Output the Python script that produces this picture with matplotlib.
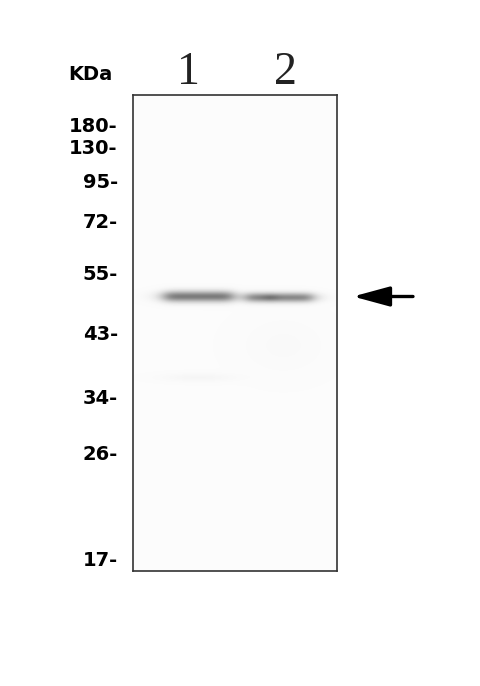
import numpy as np
import matplotlib
matplotlib.use("Agg")
import matplotlib.pyplot as plt

# marker ladder (kDa) and where each one ran on the gel (px from gel top)
marker_kda = ["180", "130", "95", "72", "55", "43", "34", "26", "17"]
marker_mig = [29, 51, 85, 125, 177, 238, 301, 358, 463]

lane_names = ["1", "2"]
lane_label_x = [55, 152]

# detected band per lane: centre x, half width, migration, darkness, thickness
band_x = [65, 146]
band_halfw = [35, 34]
band_mig = [201, 202]
band_dark = [0.50, 0.45]
band_sigma = [3.8, 3.3]

gel_w, gel_h = 204, 476

fig = plt.figure(figsize=(4.8, 6.86), dpi=100)
ax = fig.add_axes([133 / 480, 115 / 686, gel_w / 480, gel_h / 686])

# build the gel image
yy, xx = np.mgrid[0:gel_h, 0:gel_w]
img = np.full((gel_h, gel_w), 0.985)
for cx, hw, my, d, s in zip(band_x, band_halfw, band_mig, band_dark, band_sigma):
    prof_x = 1.0 / (1.0 + ((xx - cx) / hw) ** 8)
    prof_y = np.exp(-0.5 * ((yy - my) / s) ** 2)
    img -= d * prof_x * prof_y
# darker core in lane 2
img -= 0.08 * np.exp(-0.5 * (((xx - 137) / 6) ** 2 + ((yy - 202) / 2.5) ** 2))
# faint smear below the bands
img -= 0.025 * np.exp(-0.5 * (((xx - 65) / 25) ** 2 + ((yy - 282) / 3) ** 2))
img -= 0.01 * np.exp(-0.5 * (((xx - 150) / 30) ** 2 + ((yy - 250) / 20) ** 2))
img = np.clip(img, 0, 1)

ax.imshow(img, cmap="gray", vmin=0, vmax=1, extent=(0, gel_w, gel_h, 0),
          interpolation="bilinear", aspect="auto")
ax.set_xlim(0, gel_w)
ax.set_ylim(gel_h, 0)
for sp in ax.spines.values():
    sp.set_color("#333333")
    sp.set_linewidth(1.2)

ax.set_yticks(marker_mig)
ax.set_yticklabels([m + "-" for m in marker_kda], fontsize=14,
                   fontweight="bold", color="black")
ax.tick_params(axis="y", length=0, pad=11)

ax.xaxis.tick_top()
ax.set_xticks(lane_label_x)
ax.set_xticklabels(lane_names, fontsize=33, family="Liberation Serif",
                   color="#222222")
ax.tick_params(axis="x", length=0, pad=1)

ax.text(-21, -21, "KDa", fontsize=14, fontweight="bold", ha="right",
        va="center", color="black")

ax.annotate("", xy=(gel_w + 16, np.mean(band_mig)),
            xytext=(gel_w + 76, np.mean(band_mig)),
            arrowprops=dict(arrowstyle="-|>,head_length=1.4,head_width=0.38",
                            color="black", lw=2.4, mutation_scale=16,
                            shrinkA=0, shrinkB=0),
            annotation_clip=False)

fig.savefig("out.png", dpi=100, facecolor="white")
